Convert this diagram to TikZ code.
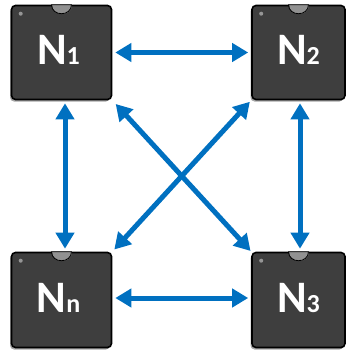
\documentclass[tikz,border=0pt]{standalone}
\usepackage{fontspec}
\setmainfont{Carlito}
\usetikzlibrary{arrows.meta,shadows}
\definecolor{chipfill}{RGB}{62,62,62}
\definecolor{notchfill}{RGB}{145,145,145}
\definecolor{dotfill}{RGB}{150,150,150}
\definecolor{arr}{RGB}{0,112,192}
\newcommand{\subsz}{\bfseries\fontsize{26}{26}\selectfont}
\begin{document}
\begin{tikzpicture}[x=1pt,y=-1pt,
  chip/.style={draw=black, line width=1.6pt, fill=chipfill, rounded corners=4pt,
    inner sep=0pt, drop shadow={shadow xshift=-1.5pt, shadow yshift=-2pt, opacity=0.35, fill=black}},
  lbl/.style={anchor=base, text=white, inner sep=0pt, font=\bfseries\fontsize{45}{45}\selectfont},
  notch/.style={draw=black, line width=0.8pt, fill=notchfill},
  conn/.style={draw=arr, line width=5pt, {Triangle[length=16pt,width=18pt]}-{Triangle[length=16pt,width=18pt]}, shorten <=3pt, shorten >=3pt}
]
\useasboundingbox (0,0) rectangle (346,351);

\node[chip, minimum width=100pt, minimum height=94pt] (N1) at (61.5,52.5) {};
\node[chip, minimum width=93pt, minimum height=94pt] (N2) at (298.5,52.5) {};
\node[chip, minimum width=100pt, minimum height=95pt] (Nn) at (61.5,300) {};
\node[chip, minimum width=93pt, minimum height=95pt] (N3) at (298.5,300) {};

\foreach \n in {N1,N2,Nn,N3}{
  \draw[notch] ([xshift=-10pt]\n.north) .. controls ([xshift=-10pt,yshift=-12pt]\n.north) and ([xshift=10pt,yshift=-12pt]\n.north) .. ([xshift=10pt]\n.north) -- cycle;
  \fill[dotfill] ([xshift=10pt,yshift=-9pt]\n.north west) circle (2pt);
}

\node[lbl] (t1) at ([xshift=-3pt,yshift=-12pt]N1.center) {N{\subsz 1}};
\node[lbl] (t2) at ([yshift=-12pt]N2.center) {N{\subsz 2}};
\node[lbl] (tn) at ([xshift=-3pt,yshift=-12pt]Nn.center) {N{\subsz n}};
\node[lbl] (t3) at ([yshift=-12pt]N3.center) {N{\subsz 3}};

\draw[conn] (N1.east) -- (N2.west);
\draw[conn] ([yshift=2pt]Nn.east) -- ([yshift=2pt]N3.west);
\draw[conn] ([xshift=3.5pt]N1.south) -- ([xshift=3.5pt]Nn.north);
\draw[conn] ([xshift=1.5pt]N2.south) -- ([xshift=1.5pt]N3.north);
\draw[conn, shorten <=5pt, shorten >=1pt] (N1.south east) -- (N3.north west);
\draw[conn, shorten <=2pt, shorten >=3pt] (N2.south west) -- (Nn.north east);
\end{tikzpicture}
\end{document}
